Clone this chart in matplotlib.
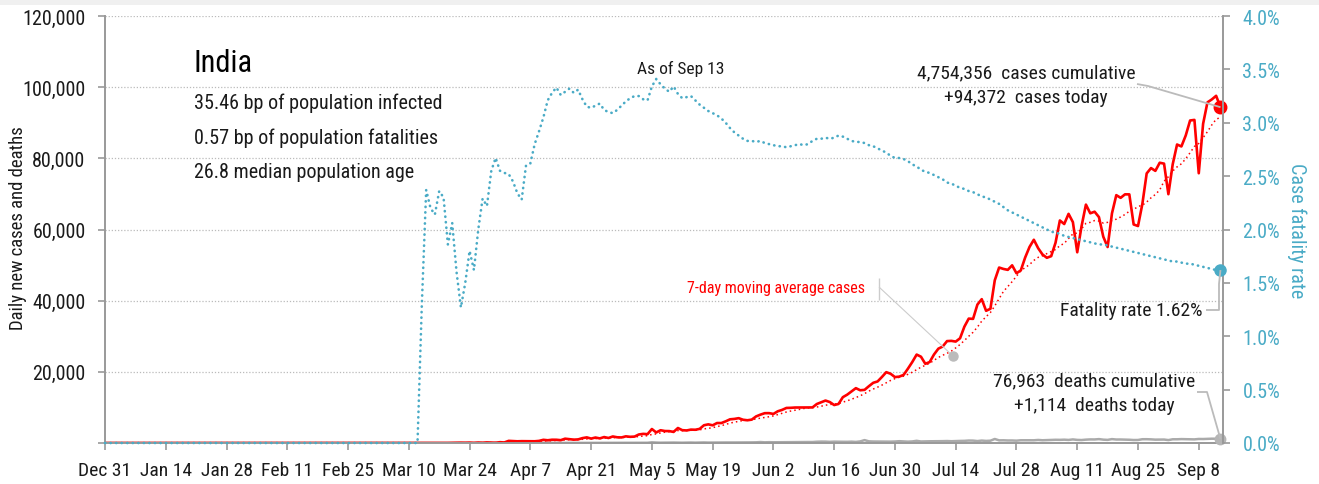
import matplotlib
matplotlib.use("Agg")
import pandas as pd
import matplotlib.pyplot as plt
import matplotlib.dates as mdates
from matplotlib import font_manager
from matplotlib.lines import Line2D
from matplotlib.patches import Rectangle

W, H = 1319, 485


# pick a condensed face if one is installed
def pick_font():
    narrow = ("condensed", "semi-condensed", "extra-condensed", "ultra-condensed")
    found = []
    for f in font_manager.fontManager.ttflist:
        if f.style != "normal" or f.weight not in (400, "normal", "regular"):
            continue
        if f.stretch in narrow or "Condensed" in f.name or "Narrow" in f.name:
            found.append(f)
    order = ["Roboto Condensed", "Liberation Sans Narrow", "Open Sans Condensed",
             "Noto Sans", "Open Sans", "DejaVu Sans"]
    for name in order:
        for f in found:
            if f.name == name:
                return f.name, f.stretch
    if found:
        return found[0].name, found[0].stretch
    return "DejaVu Sans", "normal"


FONT, STRETCH = pick_font()
plt.rcParams["font.family"] = [FONT, "DejaVu Sans"]
plt.rcParams["font.stretch"] = STRETCH

RED = "#ff0000"
TEAL = "#4aabc6"
GREY = "#aaaaaa"
AXIS = "#999999"
TEXT = "#1a1a1a"

START = "2019-12-31"

# daily new cases, Dec 31 .. Sep 13
cases_dec = [0]
cases_jan = [0, 0, 0, 0, 0, 0, 0, 0, 0, 0, 0, 0, 0, 0, 0, 0, 0, 0, 0, 0,
             0, 0, 0, 0, 0, 0, 0, 0, 0, 1, 0]
cases_feb = [0, 1, 1, 0, 0, 0, 0, 0, 0, 0, 0, 0, 0, 0, 0, 0, 0, 0, 0, 0,
             0, 0, 0, 0, 0, 0, 0, 0, 0]
cases_mar = [0, 0, 2, 1, 22, 2, 1, 3, 5, 4, 13, 6, 11, 9, 20, 11, 6, 23, 14, 38,
             50, 86, 66, 103, 37, 121, 70, 160, 100, 65, 227]
cases_apr = [146, 601, 545, 478, 515, 506, 508, 485, 591, 896, 768, 918, 909, 796, 1211,
             1076, 941, 1007, 1370, 1580, 1239, 1537, 1292, 1667, 1408, 1835, 1607, 1561, 1873, 1738]
cases_may = [1801, 2396, 2564, 2487, 3932, 2963, 3587, 3364, 3344, 3113, 4213, 3604, 3524, 3763, 3722,
             3967, 4987, 5242, 4970, 5611, 5609, 6088, 6654, 6767, 6977, 6535, 6387, 6566, 7466, 7964, 8380]
cases_jun = [8392, 8171, 8909, 9304, 9851, 9887, 9971, 9983, 9987, 9985, 9996, 10956, 11458, 11929, 11502,
             10667, 10974, 12881, 13586, 14516, 15413, 14821, 14933, 15968, 16922, 17296, 18552, 19906, 19459, 18522]
cases_jul = [18653, 19148, 20903, 22771, 24850, 24248, 22252, 22752, 24879, 26506, 27114, 28637, 28701, 28498,
             29429, 32695, 34956, 34884, 38902, 40425, 37148, 37724, 45720, 49310, 48916, 48661, 49931, 47703,
             48513, 52123, 55079]
cases_aug = [57117, 54735, 52972, 52050, 52509, 56282, 62538, 61537, 64399, 62064, 53601, 60963, 66999, 64553,
             65002, 63490, 57981, 55079, 64531, 69652, 68898, 69878, 69874, 61408, 60975, 67151, 75760, 77266,
             76472, 78761, 78512]
cases_sep = [69921, 78357, 83883, 83341, 86432, 90632, 90802, 75809, 89706, 95735, 96551, 97570, 94372]

# daily new deaths
deaths_dec = [0]
deaths_jan = [0, 0, 0, 0, 0, 0, 0, 0, 0, 0, 0, 0, 0, 0, 0, 0, 0, 0, 0, 0,
              0, 0, 0, 0, 0, 0, 0, 0, 0, 0, 0]
deaths_feb = [0, 0, 0, 0, 0, 0, 0, 0, 0, 0, 0, 0, 0, 0, 0, 0, 0, 0, 0, 0,
              0, 0, 0, 0, 0, 0, 0, 0, 0]
deaths_mar = [0, 0, 0, 0, 0, 0, 0, 0, 0, 0, 0, 0, 1, 1, 0, 0, 1, 0, 1, 1,
              0, 3, 1, 2, 1, 3, 4, 4, 5, 3, 7]
deaths_apr = [3, 4, 13, 9, 15, 11, 16, 8, 25, 13, 35, 24, 34, 25, 37, 27, 38, 23, 31, 34,
              47, 33, 50, 45, 56, 58, 60, 51, 73, 67]
deaths_may = [77, 72, 83, 68, 195, 126, 89, 103, 95, 128, 97, 87, 122, 134, 100, 120, 157, 120, 134, 140,
              132, 148, 137, 148, 147, 146, 170, 175, 194, 265, 193]
deaths_jun = [230, 204, 217, 260, 273, 286, 294, 287, 266, 279, 273, 357, 396, 386, 325, 380, 345, 341, 336, 375,
              306, 445, 812, 465, 418, 407, 384, 410, 380, 418]
deaths_jul = [507, 434, 379, 442, 613, 425, 467, 482, 487, 475, 519, 551, 500, 553, 582, 606, 687, 671, 543, 681,
              587, 648, 1129, 740, 757, 705, 708, 654, 768, 775, 779]
deaths_aug = [764, 853, 771, 803, 857, 904, 886, 933, 861, 1007, 871, 834, 942, 1007, 996, 1092, 941, 876, 1092, 977,
              983, 945, 912, 836, 848, 1059, 1065, 1021, 944, 948, 971]
deaths_sep = [819, 1045, 1043, 1096, 1066, 1065, 1016, 1133, 1115, 1172, 1209, 1201, 1114]

# case fatality rate, percent
cfr_dec = [0]
cfr_jan = [0, 0, 0, 0, 0, 0, 0, 0, 0, 0, 0, 0, 0, 0, 0, 0, 0, 0, 0, 0,
           0, 0, 0, 0, 0, 0, 0, 0, 0, 0, 0]
cfr_feb = [0, 0, 0, 0, 0, 0, 0, 0, 0, 0, 0, 0, 0, 0, 0, 0, 0, 0, 0, 0,
           0, 0, 0, 0, 0, 0, 0, 0, 0]
cfr_mar = [0, 0, 0, 0, 0, 0, 0, 0, 0, 0, 0, 0, 1.3, 2.37, 2.2, 2.14, 2.36, 2.3, 1.86, 2.06,
           1.6, 1.27, 1.5, 1.8, 1.62, 2.0, 2.29, 2.22, 2.55, 2.67, 2.55]
cfr_apr = [2.53, 2.52, 2.45, 2.34, 2.28, 2.6, 2.62, 2.8, 2.92, 3.05, 3.21, 3.28, 3.33, 3.26, 3.29,
           3.32, 3.28, 3.31, 3.22, 3.15, 3.14, 3.16, 3.18, 3.12, 3.1, 3.09, 3.12, 3.16, 3.2, 3.23]
cfr_may = [3.25, 3.25, 3.22, 3.21, 3.34, 3.41, 3.36, 3.32, 3.29, 3.34, 3.27, 3.23, 3.24, 3.25, 3.21,
           3.17, 3.14, 3.11, 3.09, 3.07, 3.04, 3.0, 2.95, 2.91, 2.88, 2.85, 2.83, 2.83, 2.82, 2.83, 2.81]
cfr_jun = [2.8, 2.79, 2.78, 2.78, 2.77, 2.78, 2.79, 2.8, 2.79, 2.8, 2.83, 2.85, 2.85, 2.86, 2.85,
           2.86, 2.88, 2.87, 2.85, 2.83, 2.82, 2.82, 2.81, 2.79, 2.78, 2.76, 2.74, 2.72, 2.69, 2.67]
cfr_jul = [2.67, 2.66, 2.64, 2.61, 2.59, 2.56, 2.54, 2.53, 2.51, 2.49, 2.47, 2.44, 2.43, 2.41, 2.39,
           2.38, 2.36, 2.35, 2.33, 2.31, 2.3, 2.28, 2.26, 2.24, 2.21, 2.18, 2.16, 2.14, 2.12, 2.1, 2.08]
cfr_aug = [2.06, 2.04, 2.02, 2.0, 1.98, 1.97, 1.96, 1.94, 1.93, 1.92, 1.91, 1.9, 1.89, 1.88, 1.87,
           1.86, 1.86, 1.85, 1.84, 1.83, 1.82, 1.81, 1.8, 1.79, 1.78, 1.77, 1.76, 1.75, 1.74, 1.73, 1.72]
cfr_sep = [1.71, 1.7, 1.7, 1.69, 1.68, 1.68, 1.67, 1.66, 1.65, 1.64, 1.63, 1.62, 1.62]

cases = (cases_dec + cases_jan + cases_feb + cases_mar + cases_apr + cases_may
         + cases_jun + cases_jul + cases_aug + cases_sep)
deaths = (deaths_dec + deaths_jan + deaths_feb + deaths_mar + deaths_apr + deaths_may
          + deaths_jun + deaths_jul + deaths_aug + deaths_sep)
cfr = (cfr_dec + cfr_jan + cfr_feb + cfr_mar + cfr_apr + cfr_may
       + cfr_jun + cfr_jul + cfr_aug + cfr_sep)

dates = pd.date_range(START, periods=len(cases), freq="D")
cases_ma = pd.Series(cases).rolling(7, min_periods=1).mean()

y_ticks = [0, 20000, 40000, 60000, 80000, 100000, 120000]
y_labels = ["", "20,000", "40,000", "60,000", "80,000", "100,000", "120,000"]
r_ticks = [0, 0.5, 1.0, 1.5, 2.0, 2.5, 3.0, 3.5, 4.0]
x_ticks = pd.date_range(START, dates[-1], freq="14D")

stats = ["35.46 bp of population infected",
         "0.57 bp of population fatalities",
         "26.8 median population age"]


def fx(x):
    return x / W


def fy(y):
    return 1 - y / H


def to_px(axis, date, value):
    dx, dy = axis.transData.transform((mdates.date2num(date), value))
    return dx, H - dy


def connector(fig, pts, color, lw):
    fig.add_artist(Line2D([fx(p[0]) for p in pts], [fy(p[1]) for p in pts],
                          transform=fig.transFigure, color=color, lw=lw,
                          solid_capstyle="butt", zorder=5))


fig = plt.figure(figsize=(W / 100, H / 100), dpi=100)
fig.add_artist(Rectangle((0, fy(6)), 1, 6 / H, transform=fig.transFigure,
                         facecolor="#f0f0f0", edgecolor="none"))

ax = fig.add_axes([fx(105), fy(444), (1223 - 105) / W, (444 - 17) / H])
ax.set_xlim(dates[0], dates[-1] + pd.Timedelta(hours=14))
ax.set_ylim(0, 120000)

ax.yaxis.grid(True, color="#bbbbbb", lw=0.9, ls=(0, (1, 1.5)))
ax.set_axisbelow(True)

ax.plot(dates, deaths, color=GREY, lw=1.8, zorder=2)
ax.plot(dates, cases, color=RED, lw=1.9, zorder=2.2)
ax.plot(dates, cases_ma, color=RED, lw=1.1, ls=(0, (1, 2)), zorder=2.1)
ax.plot(dates[-1], cases[-1], "o", color=RED, ms=9, zorder=4, clip_on=False)
ax.plot(dates[-1], deaths[-1], "o", color="#b5b5b5", ms=7.5, zorder=4, clip_on=False)

ax2 = ax.twinx()
ax2.set_ylim(0, 4.0)
ax2.plot(dates, cfr, color=TEAL, lw=1.9, ls=(0, (0.1, 2.0)), dash_capstyle="round",
         zorder=3, clip_on=False)
ax2.plot(dates[-1], cfr[-1], "o", color=TEAL, ms=8, zorder=4, clip_on=False)

for a in (ax, ax2):
    a.spines["top"].set_visible(False)
    for s in ("left", "right", "bottom"):
        a.spines[s].set_color(AXIS)
        a.spines[s].set_linewidth(1.4)
ax.spines["right"].set_visible(False)
ax2.spines["left"].set_visible(False)
ax2.spines["bottom"].set_visible(False)

ax.set_yticks(y_ticks)
ax.set_yticklabels(y_labels)
ax.set_xticks(x_ticks)
ax.set_xticklabels([d.strftime("%b ") + str(d.day) for d in x_ticks])
ax.tick_params(axis="y", length=5, width=1.2, color=AXIS, labelsize=14.5, pad=9, labelcolor=TEXT)
ax.tick_params(axis="x", length=5, width=1.2, color=AXIS, labelsize=14, pad=8, labelcolor=TEXT)

ax2.set_yticks(r_ticks)
ax2.set_yticklabels([f"{v:.1f}%" for v in r_ticks])
ax2.tick_params(axis="y", length=5, width=1.2, color=AXIS, labelsize=14.5, pad=9, labelcolor=TEAL)

fig.text(fx(18), fy(228), "Daily new cases and deaths", rotation=90, ha="center",
         va="center", fontsize=13.5, color=TEXT)
fig.text(fx(1297), fy(231), "Case fatality rate", rotation=270, ha="center",
         va="center", fontsize=14.5, color=TEAL)

# title block
fig.text(fx(194), fy(63), "India", fontsize=22, ha="left", va="center", color="black")
for i, s in enumerate(stats):
    fig.text(fx(194), fy(103 + 35 * i), s, fontsize=14.5, ha="left", va="center", color=TEXT)

fig.text(fx(681), fy(69), "As of Sep 13", fontsize=12.5, ha="center", va="center", color=TEXT)

# cases callout
fig.text(fx(1026), fy(73), "4,754,356  cases cumulative", fontsize=14, ha="center", va="center", color=TEXT)
fig.text(fx(1026), fy(98), "+94,372  cases today", fontsize=14, ha="center", va="center", color=TEXT)
px_c = to_px(ax, dates[-1], cases[-1])
connector(fig, [(1137, 85), (1148, 87), px_c], "#bbbbbb", 1.3)

# fatality callout
fig.text(fx(1203), fy(311), "Fatality rate 1.62%", fontsize=14, ha="right", va="center", color=TEXT)
px_f = to_px(ax2, dates[-1], cfr[-1])
connector(fig, [(1206, 311), (1219, 311), (1219, 285), px_f], "#bbbbbb", 1.3)

# deaths callout
fig.text(fx(1094), fy(381), "76,963  deaths cumulative", fontsize=14, ha="center", va="center", color=TEXT)
fig.text(fx(1094), fy(406), "+1,114  deaths today", fontsize=14, ha="center", va="center", color=TEXT)
px_d = to_px(ax, dates[-1], deaths[-1])
connector(fig, [(1197, 393), (1207, 393), px_d], "#bbbbbb", 1.3)

# moving average callout
fig.text(fx(865), fy(288), "7-day moving average cases", fontsize=11.5, ha="right", va="center", color=RED)
connector(fig, [(879, 279), (879, 301)], "#cccccc", 1.0)
connector(fig, [(879, 288), (953, 357)], "#cccccc", 0.8)
fig.add_artist(Line2D([fx(953)], [fy(357)], transform=fig.transFigure, marker="o",
                      ms=6.5, color="#bbbbbb", zorder=6))

fig.savefig("out.png", dpi=100)
